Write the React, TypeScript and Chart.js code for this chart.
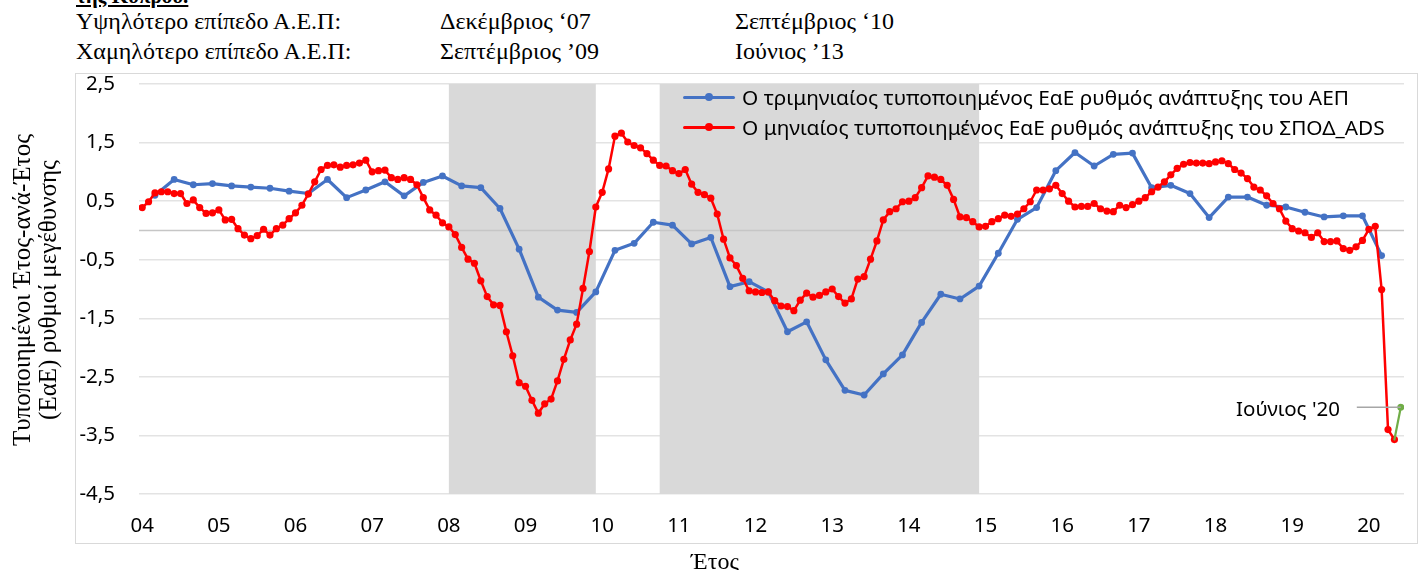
import React, { useEffect, useRef } from 'react';
import { Chart, registerables } from 'chart.js';

Chart.register(...registerables);

// ---- data ----
// x positions are month indices counted from January 2004 (0) to June 2020 (197)
const X_TICK_LABELS = ['04', '05', '06', '07', '08', '09', '10', '11', '12', '13', '14', '15', '16', '17', '18', '19', '20'];
const X_TICK_MONTHS = X_TICK_LABELS.map((_, i) => i * 12);
const Y_TICKS = [2.5, 1.5, 0.5, -0.5, -1.5, -2.5, -3.5, -4.5];

// monthly standardised YoY growth of the ADS index, Jan 2004 – May 2020
const RED_MONTHLY = [
  0.39, 0.49, 0.64, 0.66, 0.66, 0.63, 0.63, 0.46, 0.52, 0.39, 0.29, 0.30,
  0.35, 0.18, 0.19, 0.03, -0.08, -0.14, -0.09, 0.02, -0.08, 0.03, 0.09, 0.20,
  0.30, 0.43, 0.62, 0.83, 1.04, 1.11, 1.12, 1.08, 1.11, 1.12, 1.15, 1.20,
  1.00, 1.02, 1.03, 0.90, 0.87, 0.90, 0.87, 0.78, 0.56, 0.35, 0.26, 0.13,
  0.06, -0.07, -0.29, -0.49, -0.56, -0.86, -1.13, -1.27, -1.28, -1.73, -2.14, -2.60,
  -2.66, -2.90, -3.12, -2.96, -2.88, -2.57, -2.20, -1.87, -1.60, -0.99, -0.36, 0.40,
  0.65, 1.05, 1.61, 1.66, 1.51, 1.45, 1.41, 1.31, 1.20, 1.11, 1.10, 1.02,
  0.97, 1.04, 0.79, 0.65, 0.61, 0.55, 0.28, -0.15, -0.47, -0.60, -0.82, -1.03,
  -1.05, -1.06, -1.05, -1.20, -1.29, -1.30, -1.37, -1.19, -1.07, -1.14, -1.11, -1.05,
  -1.00, -1.13, -1.24, -1.17, -0.83, -0.79, -0.49, -0.18, 0.18, 0.32, 0.37, 0.49,
  0.50, 0.56, 0.73, 0.93, 0.91, 0.87, 0.77, 0.53, 0.23, 0.22, 0.15, 0.06,
  0.07, 0.15, 0.20, 0.26, 0.24, 0.28, 0.37, 0.49, 0.69, 0.69, 0.71, 0.77,
  0.63, 0.50, 0.40, 0.41, 0.41, 0.46, 0.37, 0.33, 0.32, 0.43, 0.39, 0.44,
  0.50, 0.56, 0.66, 0.74, 0.83, 0.95, 1.06, 1.13, 1.16, 1.15, 1.15, 1.14,
  1.17, 1.19, 1.14, 1.04, 0.98, 0.885, 0.74, 0.69, 0.59, 0.46, 0.37, 0.16,
  0.03, -0.01, -0.04, -0.12, -0.04, -0.19, -0.19, -0.18, -0.31, -0.34, -0.28, -0.17,
  0.02, 0.07, -1.01, -3.40, -3.57,
];

// quarterly standardised YoY GDP growth, Q1 2004 – Q1 2020 (plotted at the quarter's last month)
const BLUE_QUARTERLY = [
  0.60, 0.87, 0.78, 0.80,
  0.76, 0.74, 0.72, 0.67,
  0.63, 0.87, 0.56, 0.69,
  0.83, 0.59, 0.82, 0.93,
  0.76, 0.73, 0.375, -0.32,
  -1.14, -1.36, -1.40, -1.05,
  -0.34, -0.22, 0.14, 0.09,
  -0.23, -0.12, -0.96, -0.875,
  -1.05, -1.73, -1.56, -2.21,
  -2.73, -2.81, -2.45, -2.125,
  -1.57, -1.09, -1.17, -0.95,
  -0.39, 0.19, 0.39, 1.02,
  1.33, 1.10, 1.30, 1.32,
  0.73, 0.77, 0.63, 0.22,
  0.57, 0.57, 0.43, 0.40,
  0.31, 0.23, 0.25, 0.25,
  -0.43,
];

const JUNE_2020_VALUE = -3.02;

// recession shading (month indices)
const SHADE_START = [48, 81];
const SHADE_END = [71, 131];

// ---- labels ----
const LEGEND_GDP = 'Ο τριμηνιαίος τυποποιημένος ΕαΕ ρυθμός ανάπτυξης του ΑΕΠ';
const LEGEND_ADS = 'Ο μηνιαίος τυποποιημένος ΕαΕ ρυθμός ανάπτυξης του ΣΠΟΔ_ADS';
const ANNOTATION = "Ιούνιος '20";

const BLUE = '#4472C4';
const RED = '#FF0000';
const GREEN = '#70AD47';
const TICK_FONT = { family: '"Noto Sans", sans-serif', size: 20.5 };

const shadePlugin = {
  id: 'shade',
  beforeDatasetsDraw(chart: any) {
    const { ctx, chartArea, scales } = chart;
    const x = scales.x;
    const y = scales.y;
    ctx.save();
    ctx.fillStyle = '#D9D9D9';
    SHADE_START.forEach((s, i) => {
      const x0 = x.getPixelForValue(s);
      const x1 = x.getPixelForValue(SHADE_END[i]);
      ctx.fillRect(x0, chartArea.top, x1 - x0, chartArea.bottom - chartArea.top);
    });
    // horizontal axis line at zero
    const y0 = y.getPixelForValue(0);
    ctx.strokeStyle = '#C6C6C6';
    ctx.lineWidth = 1.5;
    ctx.beginPath();
    ctx.moveTo(chartArea.left, y0);
    ctx.lineTo(chartArea.right, y0);
    ctx.stroke();
    ctx.restore();
  },
  afterDatasetsDraw(chart: any) {
    const { ctx, scales } = chart;
    const px = scales.x.getPixelForValue(RED_MONTHLY.length);
    const py = scales.y.getPixelForValue(JUNE_2020_VALUE);
    ctx.save();
    ctx.strokeStyle = '#A6A6A6';
    ctx.lineWidth = 1.5;
    ctx.beginPath();
    ctx.moveTo(px - 44, py);
    ctx.lineTo(px, py);
    ctx.stroke();
    ctx.restore();
  },
};

function ChartCanvas() {
  const ref = useRef<HTMLCanvasElement | null>(null);
  useEffect(() => {
    if (!ref.current) return;
    const redData = RED_MONTHLY.map((v, i) => ({ x: i, y: v }));
    const blueData = BLUE_QUARTERLY.map((v, i) => ({ x: 2 + i * 3, y: v }));
    const last = RED_MONTHLY.length - 1;
    const greenData = [
      { x: last, y: RED_MONTHLY[last] },
      { x: last + 1, y: JUNE_2020_VALUE },
    ];
    const chart = new Chart(ref.current, {
      type: 'line',
      data: {
        datasets: [
          {
            label: 'june',
            data: greenData,
            borderColor: GREEN,
            backgroundColor: GREEN,
            borderWidth: 2.2,
            pointRadius: [0, 3.5],
            pointBorderWidth: 0,
            order: 0,
          },
          {
            label: LEGEND_ADS,
            data: redData,
            borderColor: RED,
            backgroundColor: RED,
            borderWidth: 2.5,
            pointRadius: 3.6,
            pointBorderWidth: 0,
            order: 1,
          },
          {
            label: LEGEND_GDP,
            data: blueData,
            borderColor: BLUE,
            backgroundColor: BLUE,
            borderWidth: 3.2,
            pointRadius: 3.4,
            pointBorderWidth: 0,
            order: 2,
          },
        ],
      },
      options: {
        animation: false,
        responsive: false,
        maintainAspectRatio: false,
        layout: { padding: { left: 75, right: 16, top: 84, bottom: 26 } },
        plugins: { legend: { display: false }, tooltip: { enabled: false } },
        elements: { line: { tension: 0, borderJoinStyle: 'round', borderCapStyle: 'round' } },
        scales: {
          x: {
            type: 'linear',
            min: -0.5,
            max: 197.5,
            grid: { display: false, drawTicks: false },
            border: { display: false },
            afterBuildTicks: (s: any) => {
              s.ticks = X_TICK_MONTHS.map((v) => ({ value: v }));
            },
            afterFit: (s: any) => {
              s.height = 50;
            },
            ticks: {
              autoSkip: false,
              maxRotation: 0,
              padding: 20,
              color: '#000',
              font: TICK_FONT,
              callback: (_v: any, i: number) => X_TICK_LABELS[i],
            },
          },
          y: {
            type: 'linear',
            min: -4.5,
            max: 2.5,
            grid: { color: '#E3E3E3', lineWidth: 1.5, drawTicks: false },
            border: { display: false },
            afterBuildTicks: (s: any) => {
              s.ticks = Y_TICKS.map((v) => ({ value: v }));
            },
            afterFit: (s: any) => {
              s.width = 64;
            },
            ticks: {
              padding: 24,
              color: '#000',
              font: TICK_FONT,
              callback: (v: any) => Number(v).toFixed(1).replace('.', ','),
            },
          },
        },
      },
      plugins: [shadePlugin],
    });
    return () => chart.destroy();
  }, []);
  return (
    <canvas
      ref={ref}
      width={1420}
      height={570}
      style={{ position: 'absolute', left: 0, top: 0, width: 1420, height: 570, display: 'block' }}
    />
  );
}

const serif = '"Liberation Serif", "Times New Roman", serif';
const sans = '"Noto Sans", sans-serif';

function LegendRow({ color, text, cy }: { color: string; text: string; cy: number }) {
  return (
    <div style={{ position: 'absolute', left: 683, top: cy - 15, height: 30, display: 'flex', alignItems: 'center' }}>
      <div style={{ position: 'relative', width: 52, height: 3, background: color, borderRadius: 2 }}>
        <div
          style={{
            position: 'absolute',
            left: 22,
            top: -2.5,
            width: 8,
            height: 8,
            borderRadius: 4,
            background: color,
          }}
        />
      </div>
      <span style={{ marginLeft: 7, fontFamily: sans, fontSize: 20.8, color: '#000', whiteSpace: 'nowrap' }}>{text}</span>
    </div>
  );
}

export default function App() {
  const headerStyle: React.CSSProperties = {
    position: 'absolute',
    fontFamily: serif,
    fontSize: 24,
    lineHeight: '30px',
    color: '#000',
    whiteSpace: 'nowrap',
  };
  return (
    <div style={{ position: 'absolute', left: 0, top: 0, width: 1420, height: 570, overflow: 'hidden', background: '#fff' }}>
      <div
        style={{
          ...headerStyle,
          left: 76,
          top: -19,
          fontWeight: 'bold',
          fontSize: 21,
          textDecoration: 'underline',
        }}
      >
        της Κύπρου.
      </div>
      <div style={{ ...headerStyle, left: 76, top: 6 }}>Υψηλότερο επίπεδο Α.Ε.Π:</div>
      <div style={{ ...headerStyle, left: 76, top: 36 }}>Χαμηλότερο επίπεδο Α.Ε.Π:</div>
      <div style={{ ...headerStyle, left: 440, top: 6 }}>Δεκέμβριος ‘07</div>
      <div style={{ ...headerStyle, left: 440, top: 36 }}>Σεπτέμβριος ’09</div>
      <div style={{ ...headerStyle, left: 735, top: 6 }}>Σεπτέμβριος ‘10</div>
      <div style={{ ...headerStyle, left: 735, top: 36 }}>Ιούνιος ’13</div>

      <div
        style={{
          position: 'absolute',
          left: 75,
          top: 73,
          width: 1343,
          height: 471,
          border: '1px solid #D9D9D9',
          boxSizing: 'border-box',
        }}
      />
      <ChartCanvas />

      <LegendRow color={BLUE} text={LEGEND_GDP} cy={97} />
      <LegendRow color={RED} text={LEGEND_ADS} cy={127} />

      <div
        style={{
          position: 'absolute',
          left: 1140,
          width: 200,
          top: 394,
          lineHeight: '28px',
          textAlign: 'right',
          fontFamily: sans,
          fontSize: 20.5,
          color: '#000',
        }}
      >
        {ANNOTATION}
      </div>

      <div
        style={{
          position: 'absolute',
          left: 35 - 220,
          top: 290 - 26,
          width: 440,
          height: 52,
          lineHeight: '26px',
          textAlign: 'center',
          fontFamily: serif,
          fontSize: 25,
          color: '#000',
          transform: 'rotate(-90deg)',
          transformOrigin: '50% 50%',
          whiteSpace: 'nowrap',
        }}
      >
        <div>Τυποποιημένοι Έτος-ανά-Έτος</div>
        <div>(ΕαΕ) ρυθμοί μεγέθυνσης</div>
      </div>

      <div
        style={{
          position: 'absolute',
          left: 615,
          width: 200,
          top: 548,
          lineHeight: '26px',
          textAlign: 'center',
          fontFamily: serif,
          fontSize: 24,
          color: '#000',
        }}
      >
        Έτος
      </div>
    </div>
  );
}
